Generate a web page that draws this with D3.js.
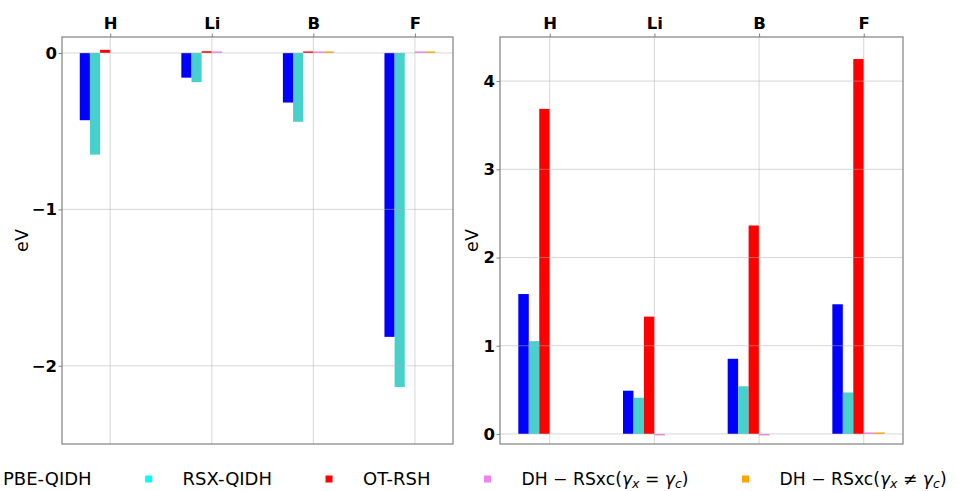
<!DOCTYPE html>
<html lang="en">
<head>
    <meta charset="UTF-8">
    <title>QIDH vs RSH</title>
    <style>
        body { margin: 0; background: #fff; font-family: "DejaVu Sans", sans-serif; }
        svg text { font-family: "DejaVu Sans", sans-serif; fill: #000; }
    </style>
</head>
<body>
    <div id="chart"></div>
    <script src="https://d3js.org/d3.v7.min.js"></script>
    <script>
        // data
        const categories = ['H', 'Li', 'B', 'F'];
        const seriesNames = ['PBE-QIDH', 'RSX-QIDH', 'OT-RSH', 'DH-RSxc(eq)', 'DH-RSxc(neq)'];
        const barColors = ['#0000ff', '#48d1cc', '#ff0000', '#ee82ee', '#ffa500'];
        const legendColors = ['#0000ff', '#00ffff', '#ff0000', '#ee82ee', '#ffa500'];
        const barOffsets = [-0.3, -0.2, -0.1, 0, 0.1];

        const pbeLeft = [-0.43, -0.158, -0.317, -1.815];
        const rsxLeft = [-0.65, -0.187, -0.44, -2.136];
        const otLeft = [0.02, 0.011, 0.005, 0.0];
        const dhEqLeft = [0.0, 0.005, 0.004, 0.004];
        const dhNeqLeft = [0.0, 0.0, 0.004, 0.004];

        const pbeRight = [1.586, 0.49, 0.852, 1.47];
        const rsxRight = [1.052, 0.41, 0.54, 0.47];
        const otRight = [3.685, 1.33, 2.363, 4.25];
        const dhEqRight = [0.0, -0.008, -0.008, 0.006];
        const dhNeqRight = [0.0, 0.0, 0.0, 0.012];

        const leftTicks = [0, -1, -2];
        const rightTicks = [0, 1, 2, 3, 4];

        const W = 956, H = 491;
        const svg = d3.select('#chart').append('svg')
            .attr('width', W).attr('height', H);

        function drawPanel(box, series, yDomain, yTicks) {
            const g = svg.append('g');
            const x = d3.scaleLinear().domain([-0.475, 3.375]).range([box.x0, box.x1]);
            const y = d3.scaleLinear().domain(yDomain).range([box.y1, box.y0]);
            const bw = x(0.1) - x(0);

            // bars (tiny non-zero bars still show as a thin line)
            series.forEach((vals, s) => {
                g.selectAll(null)
                    .data(vals)
                    .enter().append('rect')
                    .attr('x', (d, i) => x(i + barOffsets[s]))
                    .attr('width', bw)
                    .attr('y', d => {
                        const h = Math.abs(y(d) - y(0));
                        return h < 1.5 ? (d > 0 ? y(0) - 1.5 : y(0)) : Math.min(y(d), y(0));
                    })
                    .attr('height', d => d === 0 ? 0 : Math.max(Math.abs(y(d) - y(0)), 1.5))
                    .attr('fill', barColors[s]);
            });

            // grid on top
            const gridCol = 'rgba(176,176,176,0.5)';
            g.selectAll(null).data(categories).enter().append('line')
                .attr('x1', (d, i) => x(i)).attr('x2', (d, i) => x(i))
                .attr('y1', box.y0).attr('y2', box.y1)
                .attr('stroke', gridCol).attr('stroke-width', 1);
            g.selectAll(null).data(yTicks).enter().append('line')
                .attr('x1', box.x0).attr('x2', box.x1)
                .attr('y1', d => y(d)).attr('y2', d => y(d))
                .attr('stroke', gridCol).attr('stroke-width', 1);

            // axes
            const xAxis = g.append('g')
                .attr('transform', 'translate(0,' + box.y0 + ')')
                .call(d3.axisTop(x).tickValues([0, 1, 2, 3])
                    .tickFormat(d => categories[d]).tickSize(3.5).tickPadding(5));
            xAxis.select('.domain').remove();
            xAxis.selectAll('line').attr('stroke', '#808080');
            xAxis.selectAll('text').style('font-size', '16.5px').style('font-weight', 'bold');

            const yAxis = g.append('g')
                .attr('transform', 'translate(' + box.x0 + ',0)')
                .call(d3.axisLeft(y).tickValues(yTicks)
                    .tickFormat(d => d < 0 ? '\u2212' + Math.abs(d) : d).tickSize(3.5).tickPadding(1.5));
            yAxis.select('.domain').remove();
            yAxis.selectAll('line').attr('stroke', '#808080');
            yAxis.selectAll('text').style('font-size', '16.5px').style('font-weight', 'bold');

            // frame
            g.append('rect')
                .attr('x', box.x0).attr('y', box.y0)
                .attr('width', box.x1 - box.x0).attr('height', box.y1 - box.y0)
                .attr('fill', 'none').attr('stroke', '#808080').attr('stroke-width', 1.2);

            // ylabel
            g.append('text')
                .attr('transform', 'translate(' + box.labelX + ',' + ((box.y0 + box.y1) / 2) + ') rotate(-90)')
                .attr('text-anchor', 'middle')
                .style('font-size', '17.5px')
                .text('eV');
        }

        drawPanel({x0: 62, x1: 453, y0: 37, y1: 444, labelX: 28},
            [pbeLeft, rsxLeft, otLeft, dhEqLeft, dhNeqLeft], [-2.5, 0.102], leftTicks);
        drawPanel({x0: 500, x1: 903, y0: 37, y1: 444, labelX: 478},
            [pbeRight, rsxRight, otRight, dhEqRight, dhNeqRight], [-0.114, 4.5], rightTicks);

        // legend
        const legend = svg.append('g').attr('transform', 'translate(0,479)');
        let cx = 3;
        seriesNames.forEach((name, s) => {
            const item = legend.append('g');
            const t = item.append('text')
                .attr('x', cx).attr('y', 5.5)
                .style('font-size', s < 3 ? '18px' : '17.2px');
            if (s < 3) {
                t.text(name);
            } else {
                t.append('tspan').text('DH \u2212 RSxc(');
                t.append('tspan').style('font-style', 'italic').text('\u03b3');
                t.append('tspan').style('font-style', 'italic').style('font-size', '12.5px').attr('dy', 3).text('x');
                t.append('tspan').attr('dy', -3).text(s === 3 ? ' = ' : ' \u2260 ');
                t.append('tspan').style('font-style', 'italic').text('\u03b3');
                t.append('tspan').style('font-style', 'italic').style('font-size', '12.5px').attr('dy', 3).text('c');
                t.append('tspan').attr('dy', -3).text(')');
            }
            item.append('rect')
                .attr('x', cx - 34 - 3.5).attr('y', -3.5)
                .attr('width', 7).attr('height', 7)
                .attr('fill', legendColors[s]);
            cx += t.node().getComputedTextLength() + 57 + 34;
        });
    </script>
</body>
</html>
